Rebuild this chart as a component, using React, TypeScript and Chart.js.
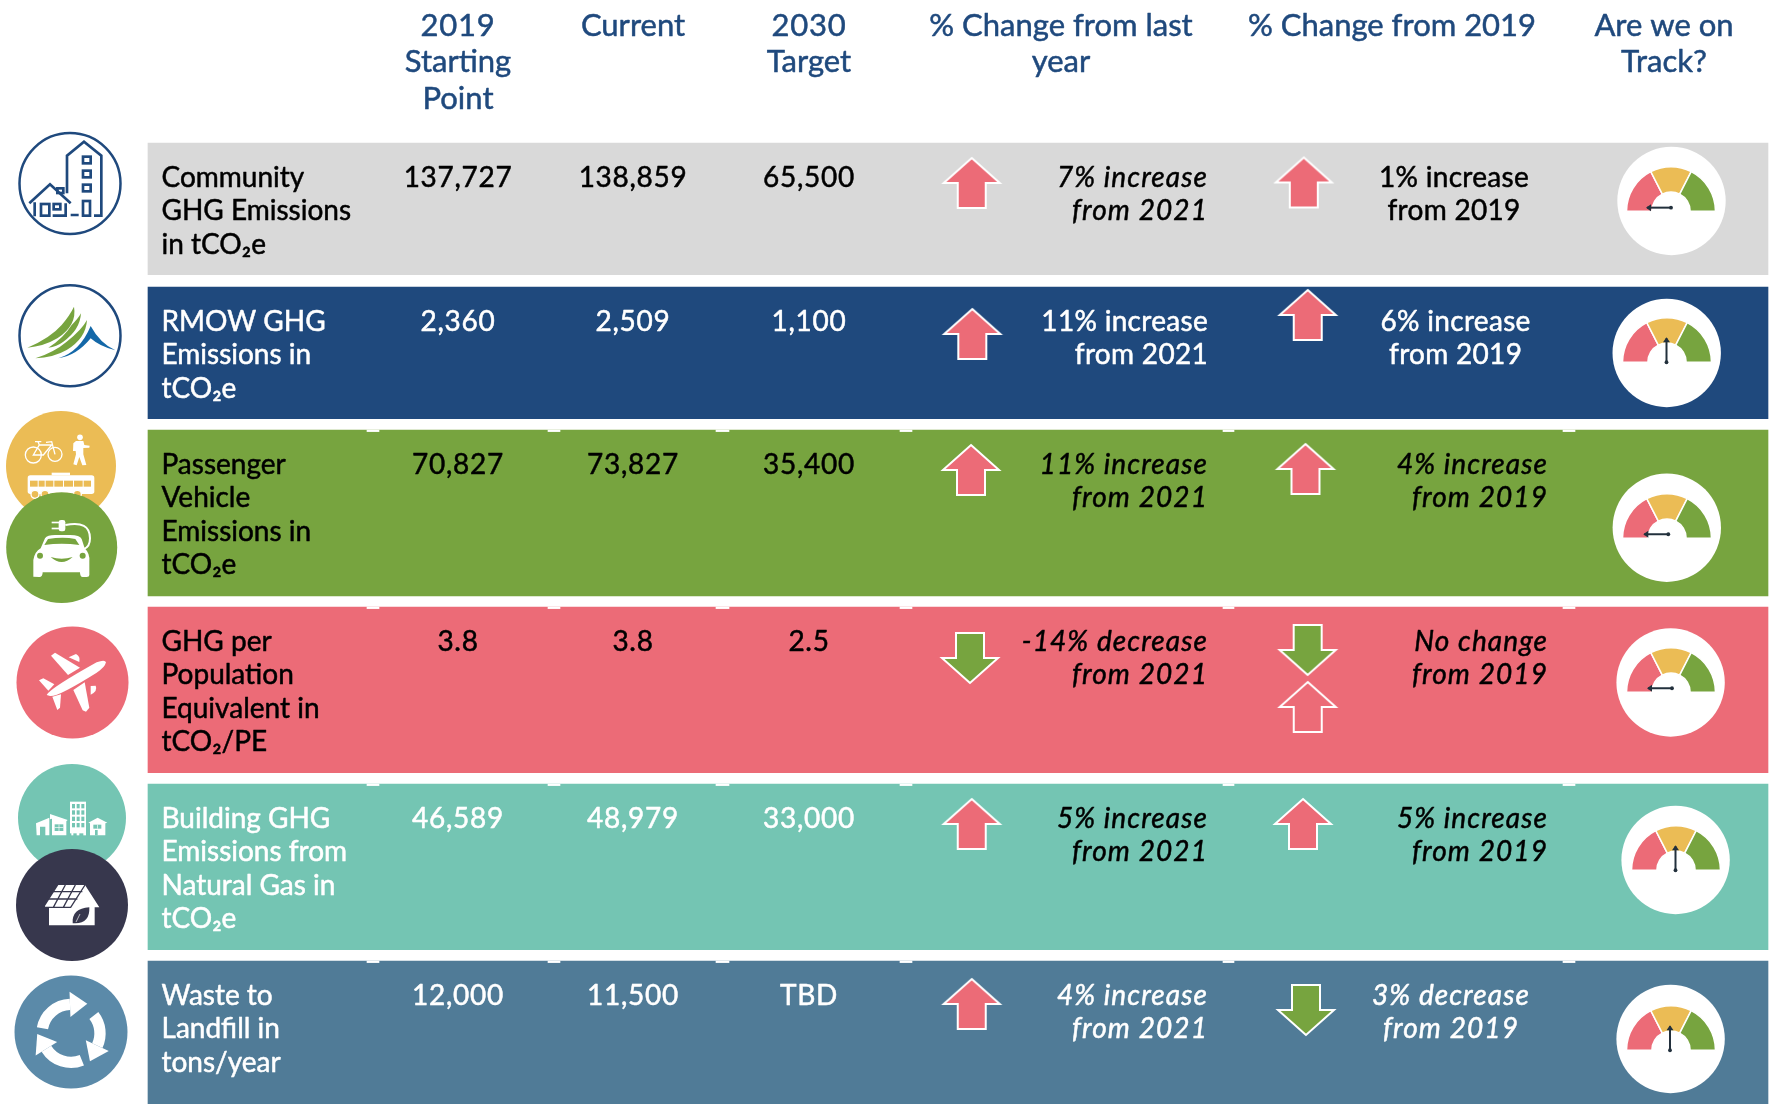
import React, { useEffect, useRef } from "react";
import { Chart, registerables } from "chart.js";

Chart.register(...registerables);

// ---------- content ----------
const headers = [
  ["2019", "Starting", "Point"],
  ["Current"],
  ["2030", "Target"],
  ["% Change from last", "year"],
  ["% Change from 2019"],
  ["Are we on", "Track?"],
];
const rowLabels = [
  ["Community", "GHG Emissions", "in tCO₂e"],
  ["RMOW GHG", "Emissions in", "tCO₂e"],
  ["Passenger", "Vehicle", "Emissions in", "tCO₂e"],
  ["GHG per", "Population", "Equivalent in", "tCO₂/PE"],
  ["Building GHG", "Emissions from", "Natural Gas in", "tCO₂e"],
  ["Waste to", "Landfill in", "tons/year"],
];
const startingPoint = ["137,727", "2,360", "70,827", "3.8", "46,589", "12,000"];
const currentValue = ["138,859", "2,509", "73,827", "3.8", "48,979", "11,500"];
const target2030 = ["65,500", "1,100", "35,400", "2.5", "33,000", "TBD"];
const changeLastYear = [
  ["7% increase", "from 2021"],
  ["11% increase", "from 2021"],
  ["11% increase", "from 2021"],
  ["-14% decrease", "from 2021"],
  ["5% increase", "from 2021"],
  ["4% increase", "from 2021"],
];
const changeFrom2019 = [
  ["1% increase", "from 2019"],
  ["6% increase", "from 2019"],
  ["4% increase", "from 2019"],
  ["No change", "from 2019"],
  ["5% increase", "from 2019"],
  ["3% decrease", "from 2019"],
];
const arrowsLastYear = ["up", "up", "up", "down", "up", "up"];
const arrowsFrom2019 = ["up", "up", "up", "down", "up", "down"];
const gaugeBands = [63, 54, 63];
const needleDegrees = [0, 90, 0, 0, 90, 90];

// ---------- layout and style ----------
const W = 1772;
const H = 1104;
const ROW_LEFT = 148;
const ROW_RIGHT = 1768;
const FONT = "Lato";
const rowTops = [143, 287, 430, 607, 784, 961];
const rowBottoms = [274.7, 418.7, 596, 772.7, 949.6, 1104];
const rowColors = ["#d9d9d9", "#1f497d", "#77a43f", "#ec6b77", "#74c5b3", "#507b97"];
const rowText = ["#000", "#fff", "#000", "#000", "#fff", "#fff"];
const changeText = ["#000", "#fff", "#000", "#000", "#000", "#fff"];
const italicCol1 = [true, false, true, true, true, true];
const italicCol2 = [false, false, true, true, true, true];
const notchSpans = [[367, 379], [548, 560], [716, 729], [900, 912], [1223, 1234], [1563, 1575]];
const arrowCol1 = [[971.7, 183], [972.3, 334], [971, 470], [970, 658], [971.7, 824], [971.7, 1004]];
const arrowCol2 = [[1303.8, 182.5], [1307.7, 315], [1305.5, 469], [1307.7, 650], [1303, 824], [1306, 1010]];
const extraArrow = [1307.7, 707];
const col2Text = [
  ["center", 1454], ["center", 1455.6], ["right", 1548], ["right", 1548], ["right", 1548], ["center", 1451],
];
const headerX = [458, 633, 809, 1061, 1392, 1664];
const valueX = [458, 633, 809];
const discs = [[1671.5, 201], [1666.7, 353], [1666.8, 527.7], [1670.6, 682.5], [1675.6, 860], [1670.6, 1039]];
const gaugeHub = [[1671, 211.7], [1667, 363.3], [1667, 539], [1670.9, 693], [1675.8, 870.7], [1670.9, 1050.7]];
const needleLift = [3.6, 0, 4, 4, 0, 0];
const needleRoot = [0, -0.5, 1.3, 1, -0.5, -1];
const iconDiscs = [
  { x: 70, y: 183.5, r: 50.5, c: "#ffffff", b: "#1f497d", w: 2.5 },
  { x: 70, y: 335.7, r: 50.5, c: "#ffffff", b: "#1f497d", w: 2.5 },
  { x: 61, y: 466, r: 55, c: "#ebbc55", b: "#ebbc55", w: 0 },
  { x: 61.7, y: 547.5, r: 55.5, c: "#77a43f", b: "#77a43f", w: 0 },
  { x: 72.5, y: 682.5, r: 56, c: "#ec6b77", b: "#ec6b77", w: 0 },
  { x: 72, y: 818, r: 54, c: "#74c5b3", b: "#74c5b3", w: 0 },
  { x: 72, y: 905, r: 56, c: "#37374d", b: "#37374d", w: 0 },
  { x: 71, y: 1032, r: 56.5, c: "#5b8aa9", b: "#5b8aa9", w: 0 },
];

type Ctx = CanvasRenderingContext2D;

function makeArrow(fill: string) {
  const c = document.createElement("canvas");
  c.width = 64;
  c.height = 56;
  const g = c.getContext("2d") as Ctx;
  g.beginPath();
  g.moveTo(32, 3);
  g.lineTo(60, 28);
  g.lineTo(46, 28);
  g.lineTo(46, 53);
  g.lineTo(18, 53);
  g.lineTo(18, 28);
  g.lineTo(4, 28);
  g.closePath();
  g.fillStyle = fill;
  if (fill !== "none") g.fill();
  g.strokeStyle = "#ffffff";
  g.lineWidth = 2;
  g.lineJoin = "miter";
  g.stroke();
  return c;
}

function poly(g: Ctx, pts: number[][]) {
  g.beginPath();
  pts.forEach((p, i) => (i ? g.lineTo(p[0], p[1]) : g.moveTo(p[0], p[1])));
  g.closePath();
}

function inCrop(g: Ctx, x: number, y: number, draw: () => void) {
  g.save();
  g.translate(x, y);
  g.scale(1 / 3, 1 / 3);
  g.lineJoin = "miter";
  draw();
  g.restore();
}

function iconTown(g: Ctx) {
  inCrop(g, 0, 125, () => {
    g.strokeStyle = "#1f497d";
    g.lineWidth = 8;
    g.beginPath();
    g.moveTo(201, 205); g.lineTo(201, 92); g.lineTo(252, 50); g.lineTo(304, 92); g.lineTo(304, 272); g.lineTo(282, 272);
    g.stroke();
    [[249, 95], [249, 137], [249, 179]].forEach((p) => g.strokeRect(p[0], p[1], 23, 20));
    g.strokeRect(249, 228, 21, 44);
    g.strokeRect(172, 190, 18, 14);
    g.beginPath();
    g.moveTo(88, 235); g.lineTo(150, 178); g.lineTo(212, 235);
    g.moveTo(104, 232); g.lineTo(104, 274);
    g.moveTo(197, 235); g.lineTo(197, 272); g.lineTo(158, 272);
    g.moveTo(212, 270); g.lineTo(236, 270);
    g.stroke();
    g.strokeRect(123, 237, 25, 35);
    g.strokeRect(161, 237, 20, 16);
  });
}

function iconMountain(g: Ctx) {
  inCrop(g, 0, 125, () => {
    g.fillStyle = "#77a43f";
    g.beginPath();
    g.moveTo(222, 545); g.quadraticCurveTo(232, 600, 172, 640); g.quadraticCurveTo(130, 665, 82, 668);
    g.quadraticCurveTo(150, 640, 185, 600); g.quadraticCurveTo(210, 570, 222, 545);
    g.fill();
    g.beginPath();
    g.moveTo(243, 565); g.quadraticCurveTo(240, 615, 190, 650); g.quadraticCurveTo(170, 665, 145, 668);
    g.quadraticCurveTo(190, 640, 215, 600); g.quadraticCurveTo(235, 580, 243, 565);
    g.fill();
    g.beginPath();
    g.moveTo(261, 585); g.quadraticCurveTo(258, 640, 200, 675); g.quadraticCurveTo(160, 698, 106, 700);
    g.quadraticCurveTo(165, 680, 200, 650); g.quadraticCurveTo(245, 615, 261, 585);
    g.fill();
    g.fillStyle = "#1468a8";
    g.beginPath();
    g.moveTo(175, 700); g.quadraticCurveTo(240, 680, 272, 603); g.quadraticCurveTo(300, 655, 346, 676);
    g.quadraticCurveTo(300, 665, 272, 640); g.quadraticCurveTo(230, 692, 175, 700);
    g.fill();
  });
}

function iconTransit(g: Ctx) {
  inCrop(g, 0, 405, () => {
    g.save();
    g.beginPath();
    g.rect(0, 0, 420, 600);
    g.arc(185, 428, 166, 0, Math.PI * 2);
    g.clip("evenodd");
    const yellow = "#ebbc55";
    g.strokeStyle = "#fff";
    g.fillStyle = "#fff";
    g.lineWidth = 4;
    [[100, 150, 24], [165, 148, 21]].forEach((w) => {
      g.beginPath();
      g.arc(w[0], w[1], w[2], 0, Math.PI * 2);
      g.stroke();
    });
    g.beginPath();
    g.moveTo(100, 150); g.lineTo(130, 150); g.lineTo(155, 120); g.lineTo(118, 120); g.closePath();
    g.moveTo(118, 120); g.lineTo(114, 110); g.moveTo(105, 110); g.lineTo(124, 110);
    g.moveTo(165, 148); g.lineTo(155, 110); g.lineTo(138, 112);
    g.stroke();
    g.beginPath();
    g.arc(240, 97, 8.5, 0, Math.PI * 2);
    g.fill();
    poly(g, [[228, 108], [250, 108], [253, 120], [269, 122], [268, 128], [250, 129], [250, 148], [259, 180], [247, 181], [238, 156], [230, 181], [220, 178], [228, 148], [227, 138], [219, 138], [220, 115]]);
    g.fill();
    g.fillRect(155, 203, 55, 8);
    g.beginPath();
    g.roundRect(83, 211, 200, 56, 8);
    g.fill();
    g.fillStyle = yellow;
    [90, 116, 137, 163, 192, 222, 251].forEach((x, i, a) => {
      const next = i < a.length - 1 ? a[i + 1] - 3 : 273;
      g.fillRect(x, 227, next - x, 18);
    });
    [[105, 268], [135, 268], [232, 268]].forEach((p) => {
      g.beginPath();
      g.arc(p[0], p[1], 12, 0, Math.PI * 2);
      g.fill();
      g.stroke();
    });
    g.restore();
  });
}

function iconCar(g: Ctx) {
  inCrop(g, 0, 405, () => {
    const green = "#77a43f";
    g.fillStyle = "#fff";
    g.strokeStyle = "#fff";
    g.beginPath();
    g.moveTo(100, 515); g.lineTo(100, 465); g.quadraticCurveTo(104, 440, 122, 430);
    g.lineTo(135, 400); g.quadraticCurveTo(142, 390, 165, 390); g.lineTo(210, 390);
    g.quadraticCurveTo(240, 390, 245, 402); g.lineTo(254, 430); g.quadraticCurveTo(270, 445, 268, 470);
    g.lineTo(268, 510); g.quadraticCurveTo(268, 516, 260, 516); g.lineTo(248, 516); g.quadraticCurveTo(240, 516, 240, 502);
    g.lineTo(128, 502); g.quadraticCurveTo(128, 516, 118, 516); g.closePath();
    g.fill();
    g.fillStyle = green;
    g.beginPath();
    g.moveTo(133, 420); g.lineTo(144, 402); g.quadraticCurveTo(190, 394, 226, 402); g.lineTo(238, 420);
    g.quadraticCurveTo(185, 412, 133, 420);
    g.fill();
    [[120, 452], [248, 452]].forEach((p) => {
      g.beginPath();
      g.arc(p[0], p[1], 9, 0, Math.PI * 2);
      g.fill();
    });
    g.beginPath();
    g.moveTo(152, 456); g.quadraticCurveTo(185, 466, 218, 456); g.quadraticCurveTo(185, 486, 152, 456);
    g.fill();
    g.lineWidth = 6;
    g.beginPath();
    g.moveTo(196, 360); g.quadraticCurveTo(270, 345, 270, 400); g.quadraticCurveTo(270, 425, 252, 432);
    g.stroke();
    g.fillStyle = "#fff";
    g.beginPath();
    g.roundRect(176, 345, 20, 34, 7);
    g.fill();
    g.fillRect(155, 350, 24, 5);
    g.fillRect(155, 368, 24, 5);
  });
}

function iconPlane(g: Ctx) {
  inCrop(g, 0, 405, () => {
    g.fillStyle = "#fff";
    g.beginPath();
    g.moveTo(140, 870); g.quadraticCurveTo(150, 850, 290, 772); g.quadraticCurveTo(315, 762, 318, 772);
    g.quadraticCurveTo(315, 787, 290, 803); g.quadraticCurveTo(170, 878, 150, 873);
    g.closePath();
    g.fill();
    poly(g, [[153, 752], [165, 743], [240, 788], [204, 810]]);
    g.fill();
    poly(g, [[220, 855], [254, 832], [268, 908], [258, 920], [248, 916]]);
    g.fill();
    poly(g, [[117, 826], [130, 820], [163, 838], [145, 857]]);
    g.fill();
    poly(g, [[157, 875], [183, 868], [180, 908], [172, 915]]);
    g.fill();
    g.beginPath();
    g.moveTo(206, 757); g.lineTo(228, 747); g.quadraticCurveTo(242, 755, 238, 771); g.closePath();
    g.fill();
    g.beginPath();
    g.moveTo(272, 843); g.lineTo(287, 842); g.quadraticCurveTo(294, 858, 272, 869); g.closePath();
    g.fill();
  });
}

function iconBuildings(g: Ctx) {
  inCrop(g, 0, 760, () => {
    const teal = "#74c5b3";
    g.fillStyle = "#fff";
    g.fillRect(210, 125, 48, 95);
    g.fillRect(214, 210, 6, 16);
    g.fillRect(230, 210, 8, 16);
    g.fillRect(250, 210, 8, 16);
    g.fillStyle = teal;
    for (let r = 0; r < 4; r++) {
      for (let c = 0; c < 3; c++) g.fillRect(216 + c * 14, 132 + r * 19, 9, 13);
    }
    g.fillStyle = "#fff";
    poly(g, [[108, 190], [148, 173], [148, 226], [136, 226], [136, 200], [120, 200], [120, 226], [110, 226]]);
    g.fill();
    poly(g, [[150, 162], [203, 180], [199, 184], [199, 226], [156, 226], [156, 176], [150, 178]]);
    g.fill();
    g.fillStyle = teal;
    g.fillRect(164, 193, 26, 20);
    g.fillStyle = "#fff";
    g.fillRect(176, 193, 2, 20);
    g.fillRect(164, 202, 26, 2);
    poly(g, [[265, 188], [293, 173], [322, 188], [316, 190], [316, 226], [270, 226], [270, 190]]);
    g.fill();
    g.fillStyle = teal;
    g.fillRect(280, 194, 24, 12);
    g.fillRect(285, 210, 8, 16);
    g.fillStyle = "#fff";
    g.fillRect(291, 194, 2, 12);
  });
}

function iconSolarHouse(g: Ctx) {
  inCrop(g, 0, 760, () => {
    const dark = "#37374d";
    g.fillStyle = "#fff";
    poly(g, [[135, 438], [175, 375], [255, 375], [298, 442], [284, 442], [284, 496], [147, 496], [147, 442], [135, 442]]);
    g.fill();
    g.strokeStyle = dark;
    g.lineWidth = 4;
    g.beginPath();
    g.moveTo(157, 395); g.lineTo(247, 395);
    g.moveTo(146, 417); g.lineTo(232, 417);
    g.moveTo(130, 442); g.lineTo(212, 442);
    g.moveTo(196, 375); g.lineTo(160, 442);
    g.moveTo(226, 375); g.lineTo(190, 442);
    g.moveTo(255, 375); g.lineTo(212, 442); g.lineTo(147, 442);
    g.stroke();
    g.fillStyle = dark;
    g.beginPath();
    g.moveTo(218, 490); g.quadraticCurveTo(215, 445, 268, 442); g.quadraticCurveTo(270, 490, 226, 490);
    g.closePath();
    g.fill();
    g.strokeStyle = "#fff";
    g.lineWidth = 2;
    g.beginPath();
    g.moveTo(228, 486); g.lineTo(240, 462);
    g.stroke();
  });
}

function iconRecycle(g: Ctx) {
  inCrop(g, 0, 760, () => {
    const cx = 213;
    const cy = 820;
    const r = 87;
    const arcs = [[190, 268], [322, 385], [68, 148]];
    g.strokeStyle = "#fff";
    g.fillStyle = "#fff";
    g.lineWidth = 34;
    arcs.forEach(([from, to]) => {
      const a0 = (from * Math.PI) / 180;
      const a1 = (to * Math.PI) / 180;
      g.beginPath();
      g.arc(cx, cy, r, a0, a1);
      g.stroke();
      const hx = cx + r * Math.cos(a1);
      const hy = cy + r * Math.sin(a1);
      const tx = -Math.sin(a1);
      const ty = Math.cos(a1);
      const nx = Math.cos(a1);
      const ny = Math.sin(a1);
      poly(g, [
        [hx + nx * 38, hy + ny * 38],
        [hx + tx * 52, hy + ty * 52],
        [hx - nx * 38, hy - ny * 38],
      ]);
      g.fill();
    });
  });
}

const textPlugin = {
  id: "tableText",
  afterDatasetsDraw(chart: any) {
    const g: Ctx = chart.ctx as any;
    g.save();
    [iconTown, iconMountain, iconTransit, iconCar, iconPlane, iconBuildings, iconSolarHouse, iconRecycle].forEach((f) => f(g));
    g.textBaseline = "alphabetic";
    g.lineJoin = "round";
    const put = (s: string, x: number, y: number, align: CanvasTextAlign, color: string, font: string, spacing = 0) => {
      g.font = font;
      (g as any).letterSpacing = `${spacing}px`;
      g.textAlign = align;
      g.fillStyle = color;
      g.strokeStyle = color;
      g.lineWidth = 0.5;
      g.strokeText(s, x, y);
      g.fillText(s, x, y);
    };
    const headFont = `31px ${FONT}, sans-serif`;
    headers.forEach((lines, c) =>
      lines.forEach((s, i) =>
        put(s, headerX[c], 36 + i * 36.3, "center", "#1f497d", headFont, /^\d+$/.test(s) ? 0.8 : 0)
      )
    );
    const body = `28px ${FONT}, sans-serif`;
    const bodyItalic = `italic 28px ${FONT}, sans-serif`;
    rowTops.forEach((top, r) => {
      const base = top + 44;
      rowLabels[r].forEach((s, i) => put(s, 161.5, base + i * 33.3, "left", rowText[r], body));
      [startingPoint, currentValue, target2030].forEach((col, c) =>
        put(col[r], valueX[c], base, "center", rowText[r], body, 0.7)
      );
      changeLastYear[r].forEach((s, i) =>
        put(s, 1208, base + i * 32.7, "right", changeText[r], italicCol1[r] ? bodyItalic : body, italicCol1[r] ? 1.1 : 0.3)
      );
      const [align, x] = col2Text[r] as [CanvasTextAlign, number];
      changeFrom2019[r].forEach((s, i) =>
        put(s, x, base + i * 32.7, align, changeText[r], italicCol2[r] ? bodyItalic : body, italicCol2[r] ? 1.1 : 0.3)
      );
    });
    g.restore();
  },
};

const needlePlugin = {
  id: "needle",
  afterDatasetsDraw(chart: any) {
    const i = chart.options.plugins.needle.index;
    const arc = chart.getDatasetMeta(0).data[0];
    const g: Ctx = chart.ctx;
    const a = (needleDegrees[i] * Math.PI) / 180;
    const x0 = arc.x + needleRoot[i];
    const y0 = arc.y - needleLift[i];
    const L = 24;
    const ux = -Math.cos(a);
    const uy = -Math.sin(a);
    g.save();
    g.strokeStyle = "#22303c";
    g.fillStyle = "#22303c";
    g.lineWidth = 2;
    g.beginPath();
    g.moveTo(x0, y0);
    g.lineTo(x0 + ux * L, y0 + uy * L);
    g.stroke();
    g.beginPath();
    g.arc(x0, y0, 1.9, 0, Math.PI * 2);
    g.fill();
    const tx = x0 + ux * (L + 1);
    const ty = y0 + uy * (L + 1);
    poly(g, [
      [tx, ty],
      [tx - ux * 5 - uy * 3.5, ty - uy * 5 + ux * 3.5],
      [tx - ux * 5 + uy * 3.5, ty - uy * 5 - ux * 3.5],
    ]);
    g.fill();
    g.restore();
  },
};

const GAUGE_R = 45;

function Gauge({ index }: { index: number }) {
  const ref = useRef<HTMLCanvasElement>(null);
  useEffect(() => {
    const chart = new Chart(ref.current as HTMLCanvasElement, {
      type: "doughnut",
      data: {
        labels: ["Off track", "Near", "On track"],
        datasets: [
          {
            data: gaugeBands,
            backgroundColor: ["#ec6b77", "#ebbc55", "#77a43f"],
            borderColor: "#ffffff",
            borderWidth: 1.5,
          },
        ],
      },
      options: {
        animation: false,
        responsive: false,
        events: [],
        rotation: -90,
        circumference: 180,
        cutout: "43%",
        layout: { padding: { bottom: 5 } },
        plugins: { legend: { display: false }, tooltip: { enabled: false }, needle: { index } } as any,
      },
      plugins: [needlePlugin],
    } as any);
    return () => chart.destroy();
  }, [index]);
  const [cx, cy] = gaugeHub[index];
  const w = GAUGE_R * 2 + 2;
  const h = GAUGE_R + 1 + 5;
  return (
    <canvas
      ref={ref}
      width={w}
      height={h}
      style={{ position: "absolute", left: cx - w / 2, top: cy - GAUGE_R - 1, width: w, height: h }}
    />
  );
}

export default function App() {
  const ref = useRef<HTMLCanvasElement>(null);
  useEffect(() => {
    const bands = rowTops.map((top, r) => ({
      type: "bar",
      indexAxis: "y",
      grouped: false,
      order: 5,
      barThickness: rowBottoms[r] - top,
      backgroundColor: rowColors[r],
      data: [{ x: [ROW_LEFT, ROW_RIGHT], y: (top + rowBottoms[r]) / 2 }],
    }));
    const notches = {
      type: "bar",
      indexAxis: "y",
      grouped: false,
      order: 4,
      barThickness: 1.6,
      backgroundColor: "#ffffff",
      data: rowTops.slice(2).flatMap((top) => notchSpans.map((s) => ({ x: s, y: top + 0.8 }))),
    };
    const arrowUp = makeArrow("#ec6b77");
    const arrowDown = makeArrow("#77a43f");
    const arrowGhost = makeArrow("none");
    const arrowPoints = [
      ...arrowCol1.map((p, r) => ({ x: p[0], y: p[1], d: arrowsLastYear[r] })),
      ...arrowCol2.map((p, r) => ({ x: p[0], y: p[1], d: arrowsFrom2019[r] })),
    ];
    const chart = new Chart(ref.current as HTMLCanvasElement, {
      type: "scatter",
      data: {
        datasets: [
          {
            order: 1,
            clip: false,
            data: [...arrowPoints, { x: extraArrow[0], y: extraArrow[1], d: "ghost" }],
            pointStyle: [
              ...arrowPoints.map((p) => (p.d === "up" ? arrowUp : arrowDown)),
              arrowGhost,
            ],
            pointRotation: [...arrowPoints.map((p) => (p.d === "up" ? 0 : 180)), 0],
            pointRadius: 28,
          },
          {
            order: 2,
            clip: false,
            data: discs.map((d) => ({ x: d[0], y: d[1] })),
            pointRadius: 54.2,
            pointBackgroundColor: "#ffffff",
            pointBorderWidth: 0,
          },
          {
            order: 3,
            clip: false,
            data: iconDiscs.map((d) => ({ x: d.x, y: d.y })),
            pointRadius: iconDiscs.map((d) => d.r),
            pointBackgroundColor: iconDiscs.map((d) => d.c),
            pointBorderColor: iconDiscs.map((d) => d.b),
            pointBorderWidth: iconDiscs.map((d) => d.w),
          },
          notches,
          ...bands,
        ],
      } as any,
      options: {
        animation: false,
        responsive: false,
        events: [],
        layout: { padding: 0, autoPadding: false },
        scales: {
          x: { type: "linear", min: 0, max: W, display: false, offset: false },
          y: { type: "linear", min: 0, max: H, reverse: true, display: false, offset: false },
        },
        plugins: { legend: { display: false }, tooltip: { enabled: false } },
      } as any,
      plugins: [textPlugin],
    } as any);
    return () => chart.destroy();
  }, []);
  return (
    <div style={{ position: "absolute", left: 0, top: 0, width: W, height: H, overflow: "hidden", background: "#fff" }}>
      <canvas ref={ref} width={W} height={H} style={{ position: "absolute", left: 0, top: 0, width: W, height: H }} />
      {gaugeHub.map((_, i) => (
        <Gauge key={i} index={i} />
      ))}
    </div>
  );
}
